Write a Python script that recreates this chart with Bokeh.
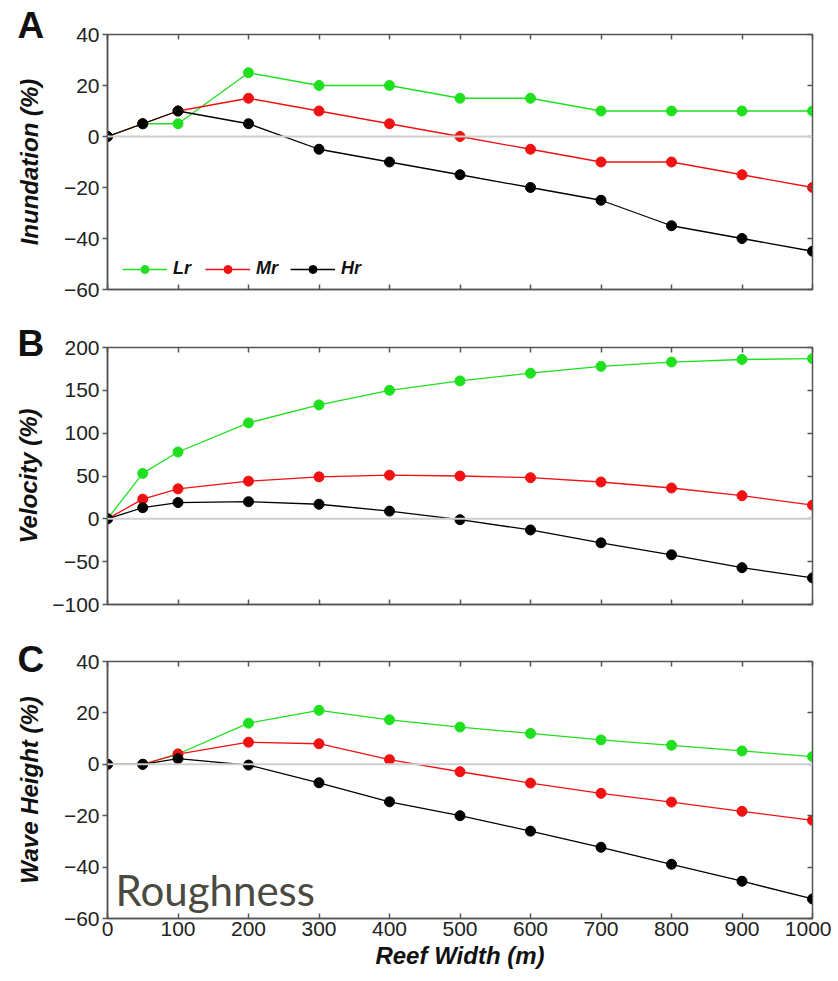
from bokeh.plotting import figure
from bokeh.layouts import column
from bokeh.models import (Range1d, LinearAxis, FixedTicker, Span, Label, Legend, LegendItem,
                          CustomJSTickFormatter)
from bokeh.embed import file_html
from bokeh.resources import INLINE

# ---------------- data ----------------
reef_width = [0, 50, 100, 200, 300, 400, 500, 600, 700, 800, 900, 1000]
x_ticks = [0, 100, 200, 300, 400, 500, 600, 700, 800, 900, 1000]

series_names = ["Lr", "Mr", "Hr"]
series_colors = ["#1fe01f", "#f01212", "#000000"]

inund_lr = [0, 5, 5, 25, 20, 20, 15, 15, 10, 10, 10, 10]
inund_mr = [0, 5, 10, 15, 10, 5, 0, -5, -10, -10, -15, -20]
inund_hr = [0, 5, 10, 5, -5, -10, -15, -20, -25, -35, -40, -45]

vel_lr = [0, 53, 78, 112, 133, 150, 161, 170, 178, 183, 186, 187]
vel_mr = [0, 23, 35, 44, 49, 51, 50, 48, 43, 36, 27, 16]
vel_hr = [0, 13, 19, 20, 17, 9, -1, -13, -28, -42, -57, -69]

wave_lr = [0, 0, 4, 16, 21, 17.3, 14.5, 12, 9.5, 7.4, 5.2, 3]
wave_mr = [0, 0, 4, 8.6, 8, 1.8, -2.9, -7.3, -11.3, -14.7, -18.3, -21.8]
wave_hr = [0, 0, 2.2, -0.3, -7.2, -14.6, -20, -26, -32.3, -38.9, -45.5, -52.4]

inund_ticks = [-60, -40, -20, 0, 20, 40]
vel_ticks = [-100, -50, 0, 50, 100, 150, 200]
wave_ticks = [-60, -40, -20, 0, 20, 40]

FONT = "Liberation Sans"
FRAME = "#555555"


def blank_labels(ax):
    # tick marks only: no tick label text at all
    ax.formatter = CustomJSTickFormatter(code="return '';")
    ax.major_label_text_font_size = "1px"
    ax.major_label_standoff = 0


def make_panel(letter, ylabel, ys, yticks, ymin, ymax, height, top, bottom,
               letter_standoff, label_standoff, show_x=False, legend=False, note=None):
    p = figure(width=831, height=height, output_backend="svg", toolbar_location=None,
               x_range=Range1d(0, 1000), y_range=Range1d(ymin, ymax),
               min_border_left=107, min_border_right=19,
               min_border_top=top, min_border_bottom=bottom)
    p.grid.visible = False
    p.outline_line_color = FRAME
    p.outline_line_width = 1.5
    p.background_fill_color = "white"
    p.border_fill_color = "white"

    p.title.text = letter
    p.title.align = "left"
    p.title.offset = -90
    p.title.standoff = letter_standoff
    p.title.text_font = FONT
    p.title.text_font_style = "bold"
    p.title.text_font_size = "37px"
    p.title.text_color = "#111111"

    p.xaxis.ticker = FixedTicker(ticks=x_ticks)
    p.yaxis.ticker = FixedTicker(ticks=yticks)
    for ax in (p.xaxis[0], p.yaxis[0]):
        ax.axis_line_color = FRAME
        ax.axis_line_width = 1.5
        ax.major_tick_line_color = FRAME
        ax.major_tick_line_width = 1.5
        ax.minor_tick_line_color = None
        ax.major_label_text_font = FONT
        ax.major_label_text_font_size = "21px"
        ax.major_label_text_color = "#222222"
        ax.axis_label_text_font = FONT
        ax.axis_label_text_font_style = "bold italic"
        ax.axis_label_text_font_size = "24px"
        ax.axis_label_text_color = "#111111"
    p.xaxis.major_tick_in = 5
    p.xaxis.major_tick_out = 0
    p.xaxis.major_label_standoff = 3
    p.yaxis.major_tick_in = 0
    p.yaxis.major_tick_out = 5
    p.yaxis.major_label_standoff = 3
    p.yaxis.axis_label = ylabel
    p.yaxis.axis_label_standoff = label_standoff
    if show_x:
        p.xaxis.axis_label = "Reef Width (m)"
        p.xaxis.axis_label_standoff = 3
    else:
        blank_labels(p.xaxis[0])

    top_ax = LinearAxis(ticker=FixedTicker(ticks=x_ticks), major_tick_in=5, major_tick_out=0,
                        axis_line_color=FRAME, major_tick_line_color=FRAME,
                        major_tick_line_width=1.5, minor_tick_line_color=None)
    right_ax = LinearAxis(ticker=FixedTicker(ticks=yticks), major_tick_in=5, major_tick_out=0,
                          axis_line_color=FRAME, major_tick_line_color=FRAME,
                          major_tick_line_width=1.5, minor_tick_line_color=None)
    blank_labels(top_ax)
    blank_labels(right_ax)
    p.add_layout(top_ax, "above")
    p.add_layout(right_ax, "right")

    p.add_layout(Span(location=0, dimension="width", line_color="#cfcfcf", line_width=2))

    items = []
    for name, color, y in zip(series_names, series_colors, ys):
        ln = p.line(reef_width, y, line_color=color, line_width=1.3)
        sc = p.scatter(reef_width, y, size=10, fill_color=color, line_color=color)
        items.append(LegendItem(label=name, renderers=[ln, sc]))

    if legend:
        lg = Legend(items=items, orientation="horizontal", location=(15, 10),
                    padding=0, margin=0, spacing=12, glyph_width=45, glyph_height=20,
                    label_height=20, label_standoff=6,
                    label_text_font=FONT, label_text_font_style="bold italic",
                    label_text_font_size="18px", label_text_color="#111111",
                    background_fill_alpha=0, border_line_color=None)
        p.add_layout(lg)

    if note:
        p.add_layout(Label(x=8, y=29, x_units="screen", y_units="screen",
                           text=note, text_font="Lato", text_font_size="42px",
                           text_color="#4a4a40", text_baseline="alphabetic"))
    return p


pa = make_panel("A", "Inundation (%)", [inund_lr, inund_mr, inund_hr], inund_ticks,
                -60, 40, 318, 34, 29, -22, 18, legend=True)
pb = make_panel("B", "Velocity (%)", [vel_lr, vel_mr, vel_hr], vel_ticks,
                -100, 200, 315, 29, 29, -32, 7)
pc = make_panel("C", "Wave Height (%)", [wave_lr, wave_mr, wave_hr], wave_ticks,
                -60, 40, 342, 28, 57, -36, 18, show_x=True, note="Roughness")

layout = column(pa, pb, pc)
open("out.html", "w").write(file_html(layout, INLINE))
